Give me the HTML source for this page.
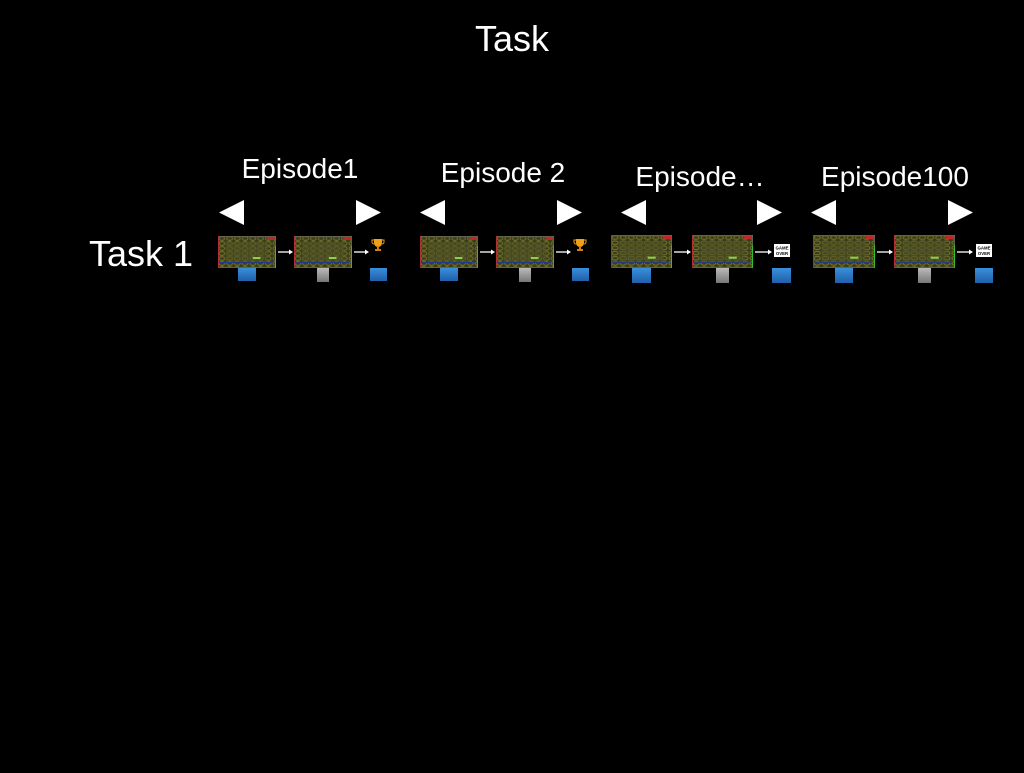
<!DOCTYPE html>
<html><head><meta charset="utf-8"><style>
html,body{margin:0;padding:0;background:#000;}
body{width:1024px;height:768px;overflow:hidden;}
svg text{font-family:"Liberation Sans",sans-serif;fill:#fff;}
</style></head><body>
<svg width="1024" height="768" viewBox="0 0 1024 768" xmlns="http://www.w3.org/2000/svg">
<defs>
<linearGradient id="bl" x1="0" y1="0" x2="0" y2="1"><stop offset="0" stop-color="#3a8fdc"/><stop offset="1" stop-color="#1f5fa8"/></linearGradient>
<linearGradient id="gr" x1="0" y1="0" x2="0" y2="1"><stop offset="0" stop-color="#bbb"/><stop offset="1" stop-color="#777"/></linearGradient>
<pattern id="cells" x="0" y="0" width="8" height="5" patternUnits="userSpaceOnUse">
<rect width="8" height="5" fill="#3b3e1c"/>
<ellipse cx="4" cy="2.5" rx="3" ry="1.8" fill="none" stroke="#7d7a2a" stroke-width="0.8"/>
</pattern>
<symbol id="th" viewBox="0 0 60 32" preserveAspectRatio="none">
<rect width="60" height="32" fill="#4b4d22"/>
<rect x="1" y="1" width="58" height="30" fill="url(#cells)"/>
<rect x="8" y="6" width="44" height="20" fill="#4e5124" opacity="0.6"/>
<rect x="0" y="0" width="60" height="32" fill="none" stroke="#777" stroke-width="1"/>
<rect x="0" y="0" width="1" height="32" fill="#b03030"/>
<rect x="59" y="10" width="1" height="22" fill="#2fbf2f"/>
<rect x="51" y="1" width="8" height="3" fill="#c02828"/>
<rect x="36" y="21" width="8" height="2" fill="#8fd04a"/>
<rect x="1" y="26" width="56" height="1" fill="#223a8a"/>
</symbol>
<symbol id="tr" viewBox="0 0 14 14">
<path d="M3 1h8v4a4 4 0 0 1-8 0z" fill="#f0a018"/>
<path d="M3 2H1v2a2 2 0 0 0 2 2M11 2h2v2a2 2 0 0 1-2 2" fill="none" stroke="#f0a018" stroke-width="1"/>
<rect x="6" y="8" width="2" height="3" fill="#d08010"/><rect x="4" y="11" width="6" height="2" fill="#d08010"/>
</symbol>
<symbol id="go" viewBox="0 0 16 13">
<rect width="16" height="13" fill="#fff"/>
<text x="8" y="5.5" font-size="4.3" text-anchor="middle" style="fill:#000;font-weight:bold">GAME</text>
<text x="8" y="11" font-size="4.3" text-anchor="middle" style="fill:#000;font-weight:bold">OVER</text>
</symbol>
</defs>

<text x="512" y="51" font-size="36" text-anchor="middle">Task</text>
<text x="141" y="266" font-size="36" text-anchor="middle">Task 1</text>

<text x="300" y="178" font-size="28" text-anchor="middle">Episode1</text>
<text x="503" y="182" font-size="28" text-anchor="middle">Episode 2</text>
<text x="700" y="186" font-size="28" text-anchor="middle">Episode…</text>
<text x="895" y="186" font-size="28" text-anchor="middle">Episode100</text>

<g fill="#fff">
<polygon points="219,212.5 244,200 244,225"/><polygon points="381,212.5 356,200 356,225"/>
<polygon points="420,212.5 445,200 445,225"/><polygon points="582,212.5 557,200 557,225"/>
<polygon points="621,212.5 646,200 646,225"/><polygon points="782,212.5 757,200 757,225"/>
<polygon points="811,212.5 836,200 836,225"/><polygon points="973,212.5 948,200 948,225"/>
</g>

<!-- Episode 1 -->
<use href="#th" x="218" y="236" width="58" height="32"/>
<use href="#th" x="294" y="236" width="58" height="32"/>
<use href="#tr" x="371" y="238" width="14" height="14"/>
<!-- Episode 2 -->
<use href="#th" x="420" y="236" width="58" height="32"/>
<use href="#th" x="496" y="236" width="58" height="32"/>
<use href="#tr" x="573" y="238" width="14" height="14"/>
<!-- Episode 3 -->
<use href="#th" x="611" y="235" width="61" height="33"/>
<use href="#th" x="692" y="235" width="61" height="33"/>
<use href="#go" x="774" y="244" width="16" height="13"/>
<!-- Episode 4 -->
<use href="#th" x="813" y="235" width="62" height="33"/>
<use href="#th" x="894" y="235" width="61" height="33"/>
<use href="#go" x="976" y="244" width="16" height="13"/>

<g stroke="#fff" stroke-width="1.3">
<line x1="278" y1="252" x2="290" y2="252"/><line x1="354" y1="252" x2="366" y2="252"/>
<line x1="480" y1="252" x2="492" y2="252"/><line x1="556" y1="252" x2="568" y2="252"/>
<line x1="674" y1="252" x2="688" y2="252"/><line x1="755" y1="252" x2="769" y2="252"/>
<line x1="877" y1="252" x2="890" y2="252"/><line x1="957" y1="252" x2="970" y2="252"/>
</g>
<g fill="#fff">
<polygon points="293,252 289,249.5 289,254.5"/><polygon points="369,252 365,249.5 365,254.5"/>
<polygon points="495,252 491,249.5 491,254.5"/><polygon points="571,252 567,249.5 567,254.5"/>
<polygon points="691,252 687,249.5 687,254.5"/><polygon points="772,252 768,249.5 768,254.5"/>
<polygon points="893,252 889,249.5 889,254.5"/><polygon points="973,252 969,249.5 969,254.5"/>
</g>

<rect x="238" y="268" width="18" height="13" fill="url(#bl)"/>
<rect x="317" y="268" width="12" height="14" fill="url(#gr)"/>
<rect x="370" y="268" width="17" height="13" fill="url(#bl)"/>
<rect x="440" y="268" width="18" height="13" fill="url(#bl)"/>
<rect x="519" y="268" width="12" height="14" fill="url(#gr)"/>
<rect x="572" y="268" width="17" height="13" fill="url(#bl)"/>
<rect x="632" y="268" width="19" height="15" fill="url(#bl)"/>
<rect x="716" y="268" width="13" height="15" fill="url(#gr)"/>
<rect x="772" y="268" width="19" height="15" fill="url(#bl)"/>
<rect x="835" y="268" width="18" height="15" fill="url(#bl)"/>
<rect x="918" y="268" width="13" height="15" fill="url(#gr)"/>
<rect x="975" y="268" width="18" height="15" fill="url(#bl)"/>
</svg>
</body></html>
